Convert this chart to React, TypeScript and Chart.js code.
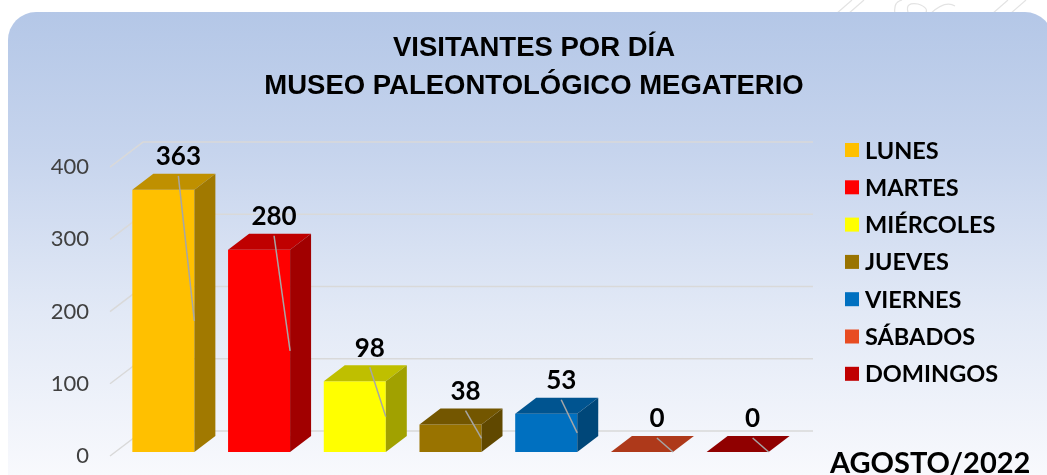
import React, { useEffect, useRef } from "react";
import { Chart, registerables } from "chart.js";

Chart.register(...registerables);

const categories = ["LUNES", "MARTES", "MIÉRCOLES", "JUEVES", "VIERNES", "SÁBADOS", "DOMINGOS"];
const visitors = [363, 280, 98, 38, 53, 0, 0];
const barColors = ["#FFC000", "#FF0000", "#FFFF00", "#997300", "#0070C0", "#E84C22", "#C00000"];
const yTicks = [0, 100, 200, 300, 400];
const titleLines = ["VISITANTES POR DÍA", "MUSEO PALEONTOLÓGICO MEGATERIO"];
const periodLabel = "AGOSTO/2022";

const DEPTH = { x: 21, y: -16 };
const WALL = { x: 33, y: -25 };
const SHIFT = { x: 5.5, y: -4 };

function shade(hex: string, f: number) {
  const n = parseInt(hex.slice(1), 16);
  const r = Math.round(((n >> 16) & 255) * f);
  const g = Math.round(((n >> 8) & 255) * f);
  const b = Math.round((n & 255) * f);
  return `rgb(${r},${g},${b})`;
}

const threeD = {
  id: "threeD",
  beforeDatasetsDraw(chart: any) {
    const { ctx, chartArea, scales } = chart;
    const y = scales.y;
    ctx.save();
    ctx.strokeStyle = "#d9d9d9";
    ctx.lineWidth = 1.5;
    yTicks.forEach((v) => {
      const py = y.getPixelForValue(v);
      ctx.beginPath();
      ctx.moveTo(chartArea.left, py);
      ctx.lineTo(chartArea.left + WALL.x, py + WALL.y);
      ctx.lineTo(chartArea.right + WALL.x, py + WALL.y);
      ctx.stroke();
    });
    ctx.restore();
    ctx.save();
    ctx.translate(SHIFT.x, SHIFT.y);
  },
  afterDatasetsDraw(chart: any) {
    const { ctx } = chart;
    const meta = chart.getDatasetMeta(0);
    meta.data.forEach((el: any, i: number) => {
      const { x, y: top, base, width } = el.getProps(["x", "y", "base", "width"], true);
      const l = x - width / 2;
      const r = x + width / 2;
      const c = barColors[i];
      ctx.fillStyle = shade(c, 0.75);
      ctx.beginPath();
      ctx.moveTo(l, top);
      ctx.lineTo(r, top);
      ctx.lineTo(r + DEPTH.x, top + DEPTH.y);
      ctx.lineTo(l + DEPTH.x, top + DEPTH.y);
      ctx.closePath();
      ctx.fill();
      if (base - top > 0.5) {
        ctx.fillStyle = shade(c, 0.63);
        ctx.beginPath();
        ctx.moveTo(r, top);
        ctx.lineTo(r + DEPTH.x, top + DEPTH.y);
        ctx.lineTo(r + DEPTH.x, base + DEPTH.y);
        ctx.lineTo(r, base);
        ctx.closePath();
        ctx.fill();
      }
      const lx = x + 15;
      const ly = top - 33;
      ctx.strokeStyle = "#a6a6a6";
      ctx.lineWidth = 1.5;
      ctx.beginPath();
      ctx.moveTo(lx, ly + 19);
      ctx.lineTo(r, (top + base) / 2);
      ctx.stroke();
      ctx.fillStyle = "#000";
      ctx.font = "bold 26px Lato, 'DejaVu Sans', sans-serif";
      ctx.textAlign = "center";
      ctx.textBaseline = "middle";
      ctx.fillText(String(visitors[i]), lx, ly);
    });
    ctx.restore();
  },
};

const legendPlugin = {
  id: "sideLegend",
  afterDraw(chart: any) {
    const { ctx, chartArea } = chart;
    ctx.save();
    ctx.font = "bold 23.5px Lato, 'DejaVu Sans', sans-serif";
    ctx.textAlign = "left";
    ctx.textBaseline = "middle";
    categories.forEach((cat, i) => {
      const cy = 150 + i * 37.3;
      ctx.fillStyle = barColors[i];
      ctx.fillRect(chartArea.right + 65, cy - 7, 14, 14);
      ctx.fillStyle = "#000";
      ctx.fillText(cat, chartArea.right + 85, cy + 1);
    });
    ctx.font = "bold 29px Lato, 'DejaVu Sans', sans-serif";
    ctx.textBaseline = "alphabetic";
    ctx.fillText(periodLabel, chartArea.right + 50, 473);
    ctx.restore();
  },
};

export default function App() {
  const ref = useRef<HTMLCanvasElement | null>(null);

  useEffect(() => {
    if (!ref.current) return;
    const noPad = (s: any) => {
      s.paddingTop = 0;
      s.paddingBottom = 0;
    };
    const chart = new Chart(ref.current, {
      type: "bar",
      data: {
        labels: categories,
        datasets: [
          {
            data: visitors,
            backgroundColor: barColors,
            borderWidth: 0,
            barPercentage: 0.648,
            categoryPercentage: 1,
          },
        ],
      },
      options: {
        responsive: false,
        animation: false,
        layout: { autoPadding: false, padding: { left: 21, right: 0, top: 0, bottom: 19 } },
        plugins: {
          legend: { display: false },
          tooltip: { enabled: false },
          title: {
            display: true,
            text: titleLines,
            color: "#000",
            font: { family: "'Liberation Sans', Arial, sans-serif", size: 27.5, weight: "bold", lineHeight: 1.38 },
            padding: { top: 29, bottom: 62.2 },
          },
        },
        scales: {
          x: { display: false, offset: true, grid: { display: false }, afterFit: noPad },
          y: {
            min: 0,
            max: 400,
            afterFit: (s: any) => {
              s.width = 89;
              noPad(s);
            },
            grid: { display: false, drawTicks: false },
            border: { display: false },
            ticks: { stepSize: 100, padding: 21, color: "#404040", font: { family: "Lato", size: 22 } },
          },
          side: {
            type: "linear",
            position: "right",
            display: true,
            afterFit: (s: any) => {
              s.width = 267;
              noPad(s);
            },
            grid: { display: false, drawTicks: false },
            border: { display: false },
            ticks: { display: false },
          },
        },
      } as any,
      plugins: [threeD, legendPlugin],
    });
    return () => chart.destroy();
  }, []);

  return (
    <div style={{ position: "fixed", left: 0, top: 0, width: 1047, height: 475, overflow: "hidden", background: "#fff" }}>
      <svg width={1047} height={20} style={{ position: "absolute", left: 0, top: 0 }}>
        <g fill="none" stroke="#e3e3e3" strokeWidth={1.2}>
          <path d="M836 14 L852 0" />
          <path d="M848 14 L864 0" />
          <path d="M895 14 Q893 2 902 0" />
          <path d="M908 12 Q905 2 918 4 Q930 8 925 14" />
          <path d="M930 14 Q945 0 955 6" />
          <path d="M992 14 L1008 0" />
          <path d="M1010 14 L1026 0" />
        </g>
      </svg>
      <div
        style={{
          position: "absolute",
          left: 8,
          top: 12,
          width: 1045,
          height: 463,
          borderRadius: "28px 28px 0 0",
          background: "linear-gradient(180deg, #b4c7e7 0%, #c6d4ed 30%, #e2e9f6 65%, #f8f9fd 100%)",
        }}
      />
      <canvas ref={ref} width={1047} height={475} style={{ position: "absolute", left: 0, top: 0, width: 1047, height: 475 }} />
    </div>
  );
}
